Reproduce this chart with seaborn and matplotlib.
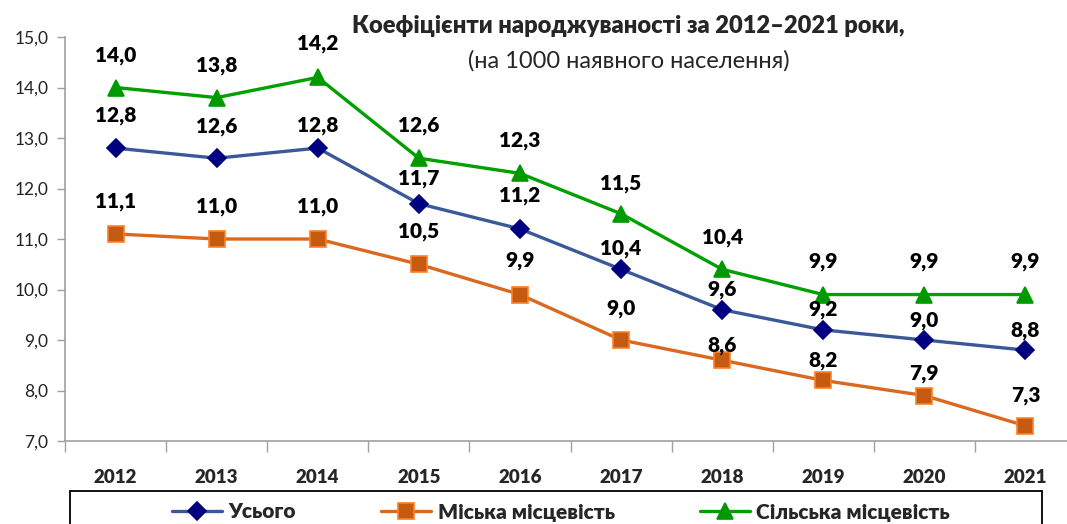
import matplotlib
matplotlib.use("Agg")
import matplotlib.pyplot as plt
import seaborn as sns
import pandas as pd
from matplotlib.patches import Rectangle
from matplotlib.ticker import FuncFormatter, FixedLocator, NullFormatter

years = ["2012", "2013", "2014", "2015", "2016", "2017", "2018", "2019", "2020", "2021"]
total = [12.8, 12.6, 12.8, 11.7, 11.2, 10.4, 9.6, 9.2, 9.0, 8.8]
urban = [11.1, 11.0, 11.0, 10.5, 9.9, 9.0, 8.6, 8.2, 7.9, 7.3]
rural = [14.0, 13.8, 14.2, 12.6, 12.3, 11.5, 10.4, 9.9, 9.9, 9.9]
series_names = ["Усього", "Міська місцевість", "Сільська місцевість"]
title_main = "Коефіцієнти народжуваності за 2012–2021 роки,"
title_sub = "(на 1000 наявного населення)"

# vertical offsets (pixels) of the data labels above each marker (style only)
label_offsets_px = [
    [33, 32, 23, 25, 33, 21, 20, 20, 20, 20],
    [32, 32, 32, 33, 34, 31, 15, 20, 22, 30],
    [32, 32, 34, 33, 33, 30, 32, 33, 33, 33],
]

sns.set_theme(style="white")
plt.rcParams["font.family"] = ["Lato", "DejaVu Sans"]

fig = plt.figure(figsize=(10.67, 5.24), dpi=100)
ax = fig.add_axes([65/1067, 1-441/524, (1076-65)/1067, (441-37)/524])

pos = list(range(len(years)))
styles = [
    dict(data=total, color="#3B5998", marker="D", mfc="#000080", mec="#000080", ms=9),
    dict(data=urban, color="#D9691F", marker="s", mfc="#C55A11", mec="#FF7F27", ms=11),
    dict(data=rural, color="#00A000", marker="^", mfc="#009900", mec="#009900", ms=11),
]
handles = []
for name, st, offs in zip(series_names, styles, label_offsets_px):
    df = pd.DataFrame({"x": pos, "y": st["data"]})
    sns.lineplot(data=df, x="x", y="y", ax=ax, color=st["color"], linewidth=2.4,
                 marker=st["marker"], markersize=st["ms"], markerfacecolor=st["mfc"],
                 markeredgecolor=st["mec"], markeredgewidth=1.2, label=name, legend=False)
    handles.append(ax.lines[-1])
    for x, y, o in zip(pos, st["data"], offs):
        ax.annotate(f"{y:.1f}".replace(".", ","), (x, y), xytext=(0, o * 0.72),
                    textcoords="offset points", ha="center", va="center",
                    fontsize=15, fontweight="heavy", color="black", zorder=10)

ax.set_xlim(-0.5, len(years) - 0.5)
ax.set_ylim(7, 15)
ax.set_yticks([7, 8, 9, 10, 11, 12, 13, 14, 15])
ax.yaxis.set_major_formatter(FuncFormatter(lambda v, p: f"{v:.1f}".replace(".", ",")))
ax.tick_params(axis="y", which="major", left=True, length=6, width=1, color="#A0A0A0",
               labelsize=12.5, labelcolor="#222222", pad=6)

ax.set_xticks(pos)
ax.set_xticklabels(years, fontsize=13.5, fontweight="heavy")
ax.tick_params(axis="x", which="major", bottom=False, length=0, pad=20)
ax.xaxis.set_minor_locator(FixedLocator([i - 0.5 for i in range(len(years) + 1)]))
ax.xaxis.set_minor_formatter(NullFormatter())
ax.tick_params(axis="x", which="minor", bottom=True, length=8, width=1, color="#A0A0A0")

ax.set_xlabel("")
ax.set_ylabel("")
for side in ["top", "right"]:
    ax.spines[side].set_visible(False)
for side in ["left", "bottom"]:
    ax.spines[side].set_color("#A0A0A0")
    ax.spines[side].set_linewidth(1.2)

fig.text(628/1067, 1-26/524, title_main, ha="center", va="center",
         fontsize=17, fontweight="heavy")
fig.text(629/1067, 1-61/524, title_sub, ha="center", va="center", fontsize=17)

box = Rectangle((70/1067, -0.05), 972/1067, 0.05 + 1 - 491/524, transform=fig.transFigure,
                facecolor="white", edgecolor="black", linewidth=1.3, zorder=1)
fig.patches.append(box)
leg = fig.legend(handles, series_names, loc="center",
                 bbox_to_anchor=(561/1067, 1 - 512/524),
                 ncol=3, frameon=False, handlelength=2.4, handletextpad=0.3,
                 columnspacing=4.1, prop=dict(size=15, weight="heavy"))
leg.set_zorder(5)

fig.savefig("out.png", dpi=100)
